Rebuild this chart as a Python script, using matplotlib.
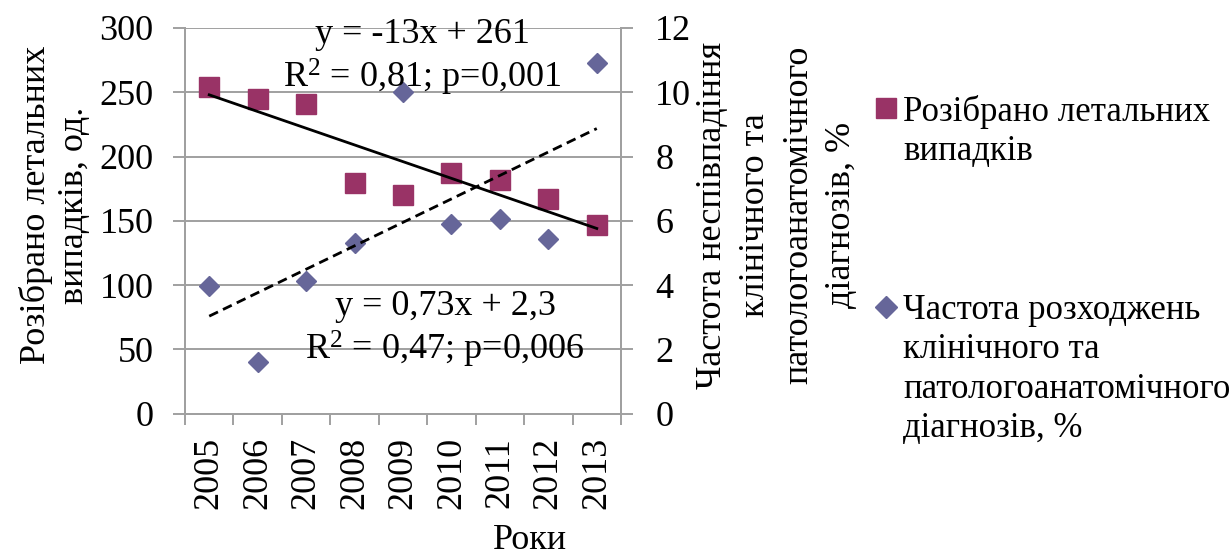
import numpy as np
import matplotlib
matplotlib.use("Agg")
import matplotlib.pyplot as plt
from matplotlib.lines import Line2D

plt.rcParams['font.family'] = ['Liberation Serif', 'DejaVu Serif']
plt.rcParams['font.size'] = 26
plt.rcParams['mathtext.fontset'] = 'custom'
plt.rcParams['mathtext.rm'] = 'Liberation Serif'
plt.rcParams['mathtext.it'] = 'Liberation Serif:italic'

# data
years = ['2005', '2006', '2007', '2008', '2009', '2010', '2011', '2012', '2013']
cases = [254, 245, 241, 179, 170, 187, 182, 167, 147]          # розібрано летальних випадків, од.
mismatch = [3.97, 1.61, 4.12, 5.32, 10.0, 5.90, 6.04, 5.42, 10.9]  # частота розходжень, %

# linear trends as given in the equations
trend_cases = (-13, 261)
trend_mismatch = (0.73, 2.3)

sq_color = '#993366'
dm_color = '#666699'
grid_color = '#a0a0a0'

W, H = 1230, 553
x = np.arange(1, len(years) + 1)

fig = plt.figure(figsize=(W / 100, H / 100), dpi=100)
ax = fig.add_axes([185 / W, 1 - 413.5 / H, 436 / W, 385.5 / H])
ax2 = ax.twinx()

# left axis: lethal cases
ax.plot(x, cases, 's', color=sq_color, markersize=14.5, zorder=3)
xf = np.array([x[0], x[-1]])
ax.plot(xf, trend_cases[0] * xf + trend_cases[1], '-', color='black', lw=2, zorder=4)

ax.set_xlim(0.5, len(years) + 0.5)
ax.set_ylim(0, 300)
ax.set_yticks(np.arange(0, 301, 50))
ax.yaxis.grid(True, color=grid_color, lw=1.4)
ax.set_axisbelow(True)

ax.set_xticks(x)
ax.set_xticklabels(years, rotation=90)
ax.set_xticks(np.arange(0.5, len(years) + 1), minor=True)
ax.tick_params(axis='x', which='major', length=0, pad=17)
ax.tick_params(axis='x', which='minor', length=8, width=1.4, color=grid_color, direction='out')
ax.tick_params(axis='y', length=8.6, width=1.4, color=grid_color, pad=14)

# right axis: diagnosis mismatch frequency
ax2.plot(x, mismatch, 'D', color=dm_color, markersize=10.5, zorder=3)
ax2.plot(xf, trend_mismatch[0] * xf + trend_mismatch[1], '--', color='black',
         lw=2, dashes=(3.5, 2), zorder=4)
ax2.set_ylim(0, 12)
ax2.set_yticks(np.arange(0, 13, 2))
ax2.tick_params(axis='y', length=8.6, width=1.4, color=grid_color, pad=16)

for a in (ax, ax2):
    a.spines['top'].set_visible(False)
    for s in ('left', 'right', 'bottom'):
        a.spines[s].set_color(grid_color)
        a.spines[s].set_linewidth(1.4)
ax2.patch.set_visible(False)

# trend equations (y is the baseline of the last line)
fig.text(422 / W, 1 - 88 / H, 'y = -13x + 261\nR$^2$ = 0,81; p=0,001',
         ha='center', va='baseline', multialignment='center', linespacing=1.2, zorder=5)
fig.text(445 / W, 1 - 360 / H, 'y = 0,73x + 2,3\nR$^2$ = 0,47; p=0,006',
         ha='center', va='baseline', multialignment='center', linespacing=1.2, zorder=5)

# axis titles
fig.text(55 / W, 1 - 205 / H, 'Розібрано летальних\nвипадків, од.', rotation=90,
         ha='center', va='center', multialignment='center', linespacing=1.22)
fig.text(777 / W, 1 - 215 / H,
         'Частота неспівпадіння\nклінічного та\nпатологоанатомічного\nдіагнозів, %',
         rotation=90, ha='center', va='center', multialignment='center', linespacing=1.4)
fig.text(530 / W, 1 - 549 / H, 'Роки', ha='center', va='baseline')

# legend
entries = [
    ('s', sq_color, 15, 108.5, 160, 'Розібрано летальних\nвипадків'),
    ('D', dm_color, 11, 306.5, 437, 'Частота розходжень\nклінічного та\nпатологоанатомічного\nдіагнозів, %'),
]
for marker, color, ms, ymark, ybase, label in entries:
    fig.add_artist(Line2D([886 / W], [1 - ymark / H], marker=marker, color=color,
                          markersize=ms, linestyle='none', transform=fig.transFigure))
    fig.text(903 / W, 1 - ybase / H, label, ha='left', va='baseline', fontsize=25,
             linespacing=1.25)

fig.savefig('out.png', dpi=100)
